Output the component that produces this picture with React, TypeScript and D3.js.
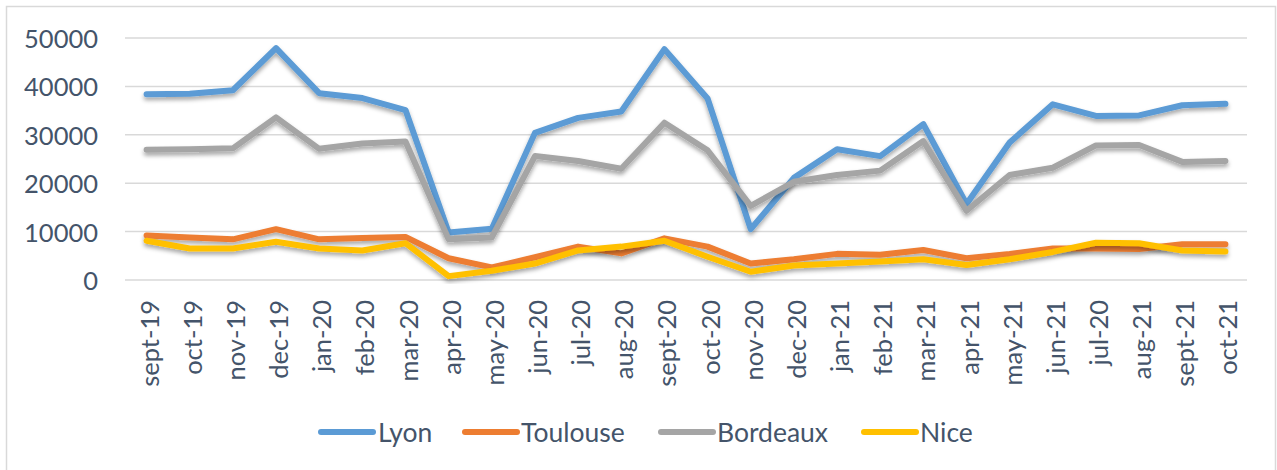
import React from "react";
import * as d3 from "d3";

const months = ["sept-19","oct-19","nov-19","dec-19","jan-20","feb-20","mar-20","apr-20","may-20","jun-20","jul-20","aug-20","sept-20","oct-20","nov-20","dec-20","jan-21","feb-21","mar-21","apr-21","may-21","jun-21","jul-20","aug-21","sept-21","oct-21"];

const lyon = [38400,38500,39200,47900,38600,37600,35100,9800,10600,30400,33500,34800,47700,37500,10500,21100,27000,25600,32200,15700,28400,36300,33900,34000,36100,36400];
const toulouse = [9200,8800,8400,10500,8400,8700,8900,4500,2600,4700,6900,5500,8600,6900,3400,4300,5400,5200,6200,4500,5400,6500,6500,6400,7400,7400];
const bordeaux = [26900,27000,27200,33600,27100,28200,28600,8400,8800,25600,24600,23000,32500,26800,15300,20300,21700,22600,28700,14300,21700,23200,27800,27900,24400,24600];
const nice = [8100,6500,6500,7900,6500,6100,7600,800,1900,3400,6100,6900,8100,4800,1700,3000,3400,3800,4300,3100,4300,5800,7700,7600,6100,5900];

const yTicks = [0, 10000, 20000, 30000, 40000, 50000];

const seriesNames = ["Lyon", "Toulouse", "Bordeaux", "Nice"];
const seriesColors = ["#5b9bd5", "#ed7d31", "#a5a5a5", "#ffc000"];
const seriesValues = [lyon, toulouse, bordeaux, nice];

const W = 1277;
const H = 470;
const FONT = "Lato, 'Open Sans', sans-serif";
const TEXT = "#44546a";

export default function App() {
  const left = 125;
  const right = 1247;
  const top = 38;
  const bottom = 280;

  const idx = months.map((_, i) => i);
  const x = d3.scaleBand<number>().domain(idx).range([left, right]).paddingInner(0).paddingOuter(0);
  const y = d3.scaleLinear().domain([0, 50000]).range([bottom, top]);
  const cx = (i: number) => (x(i) as number) + x.bandwidth() / 2;

  const line = d3
    .line<number>()
    .x((_, i) => cx(i))
    .y((v) => y(v));

  const legendItems = [
    { swatch: 318, text: 378 },
    { swatch: 462, text: 521 },
    { swatch: 658, text: 717 },
    { swatch: 861, text: 920 },
  ];
  const legendY = 432;

  return (
    <svg
      width={W}
      height={H}
      style={{ position: "absolute", left: 0, top: 0, background: "#fff" }}
      fontFamily={FONT}
    >
      <defs>
        <filter id="shadow" x="-5%" y="-20%" width="110%" height="140%">
          <feDropShadow dx="0" dy="3" stdDeviation="2" floodColor="#000" floodOpacity="0.35" />
        </filter>
      </defs>
      <rect x={6.5} y={6.5} width={1269} height={480} fill="#fff" stroke="#d9d9d9" strokeWidth={1.5} />

      {yTicks.map((t) => (
        <g key={t}>
          <line x1={left} x2={right} y1={y(t)} y2={y(t)} stroke="#d9d9d9" strokeWidth={1.5} />
          <text x={98} y={y(t)} textAnchor="end" dominantBaseline="central" fontSize={25.5} fill={TEXT}>
            {t}
          </text>
        </g>
      ))}

      {months.map((m, i) => (
        <text
          key={i}
          transform={`translate(${cx(i) + 2},300) rotate(-90)`}
          textAnchor="end"
          dominantBaseline="central"
          fontSize={25.5}
          fill={TEXT}
        >
          {m}
        </text>
      ))}

      {seriesValues.map((vals, i) => (
        <path
          key={seriesNames[i]}
          d={line(vals) || ""}
          fill="none"
          stroke={seriesColors[i]}
          strokeWidth={6}
          strokeLinejoin="round"
          strokeLinecap="round"
          filter="url(#shadow)"
        />
      ))}

      {seriesNames.map((n, i) => (
        <g key={n}>
          <line
            x1={legendItems[i].swatch + 3}
            x2={legendItems[i].swatch + 55}
            y1={legendY}
            y2={legendY}
            stroke={seriesColors[i]}
            strokeWidth={6}
            strokeLinecap="round"
          />
          <text x={legendItems[i].text} y={legendY} dominantBaseline="central" fontSize={26.5} fill={TEXT}>
            {n}
          </text>
        </g>
      ))}
    </svg>
  );
}
